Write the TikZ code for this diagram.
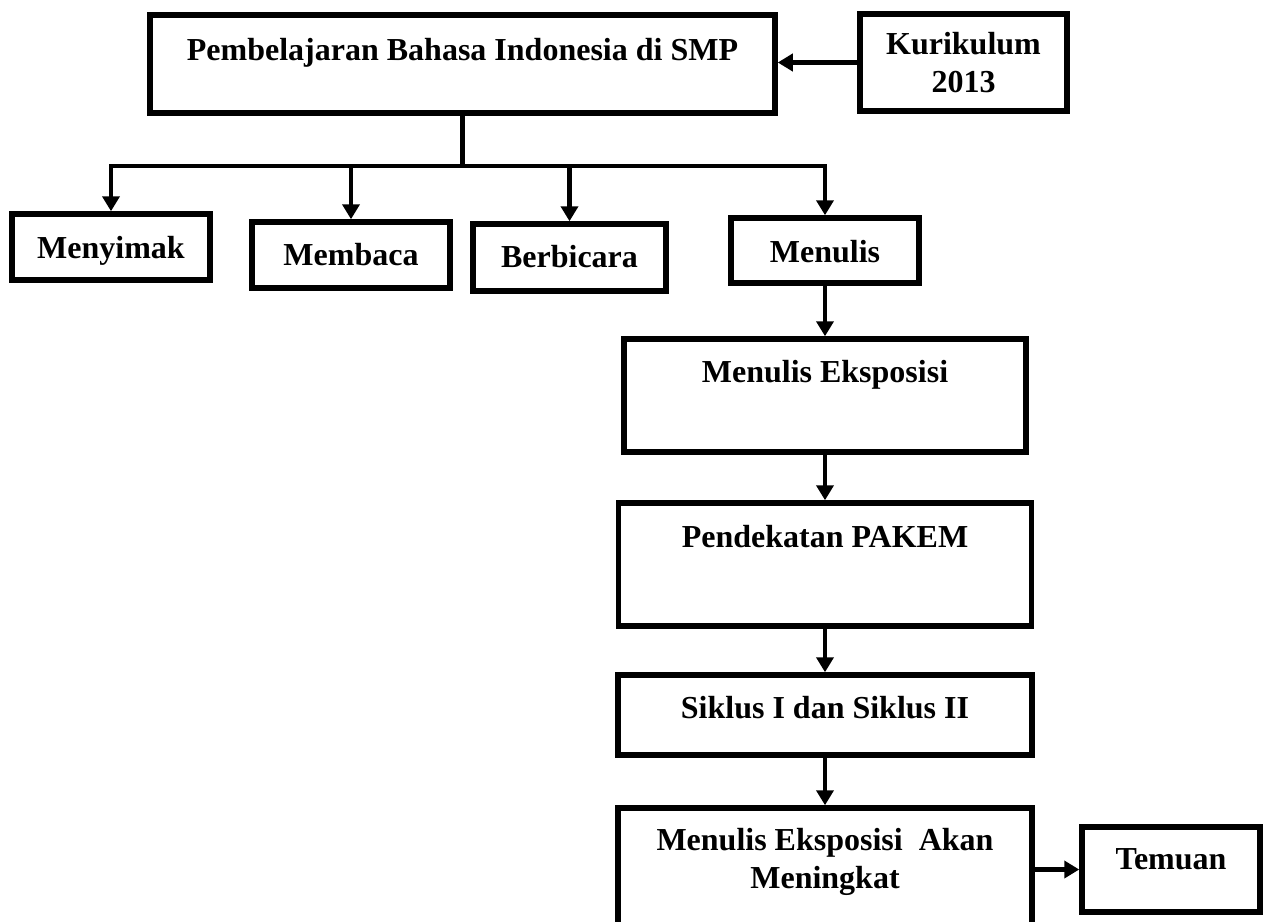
\documentclass[tikz,border=0pt]{standalone}
\usepackage{fontspec}
\setmainfont{Liberation Serif}
\usetikzlibrary{arrows.meta}

\begin{document}
\begin{tikzpicture}[x=1pt, y=-1pt, >={Triangle[length=15pt,width=17pt]},
  box/.style={draw, line width=5.5pt, inner sep=0pt, align=center, font=\fontsize{32}{38}\selectfont\bfseries},
  conn/.style={line width=4.5pt}]
  \useasboundingbox (0,0) rectangle (1268,921);
  \node [box, minimum width=625pt, text height=45pt, text depth=53pt] (pemb) at (462.5,64) {Pembelajaran Bahasa Indonesia di SMP};
  \node [box, minimum width=207pt, text height=78pt, text depth=19pt] (kur) at (963.5,62.5) {Kurikulum\\2013};
  \node [box, minimum width=198pt, text height=44pt, text depth=22pt] (menyimak) at (111,247) {Menyimak};
  \node [box, minimum width=198pt, text height=43pt, text depth=23pt] (membaca) at (351,255) {Membaca};
  \node [box, minimum width=193pt, text height=43pt, text depth=24pt] (berbicara) at (569.5,257.5) {Berbicara};
  \node [box, minimum width=188pt, text height=44pt, text depth=21pt] (menulis) at (825,250.5) {Menulis};
  \node [box, minimum width=402pt, text height=43pt, text depth=70pt] (ekspo) at (825,395.5) {Menulis Eksposisi};
  \node [box, minimum width=413pt, text height=44pt, text depth=79pt] (pakem) at (825,564.5) {Pendekatan PAKEM};
  \node [box, minimum width=414pt, text height=43pt, text depth=37pt] (siklus) at (825,715) {Siklus I dan Siklus II};
  \node [box, minimum width=414pt, text height=80pt, text depth=62pt] (hasil) at (825,879) {Menulis Eksposisi\ \ Akan\\Meningkat};
  \node [box, minimum width=178pt, text height=42pt, text depth=43pt] (temuan) at (1171,869.5) {Temuan};
  \coordinate (bus) at (462.5,166);

  \draw [conn,->] (kur.west) -- (kur.west -| pemb.east);
  \draw [conn] (pemb.south) -- (bus);
  \draw [conn,->] (bus) -| (menyimak.north);
  \draw [conn,->] (bus) -| (menulis.north);
  \draw [conn,->] (bus -| membaca.north) -- (membaca.north);
  \draw [conn,->] (bus -| berbicara.north) -- (berbicara.north);
  \draw [conn,->] (menulis.south) -- (ekspo.north);
  \draw [conn,->] (ekspo.south) -- (pakem.north);
  \draw [conn,->] (pakem.south) -- (siklus.north);
  \draw [conn,->] (siklus.south) -- (hasil.north);
  \draw [conn,->] (temuan.west -| hasil.east) -- (temuan.west);
\end{tikzpicture}
\end{document}
